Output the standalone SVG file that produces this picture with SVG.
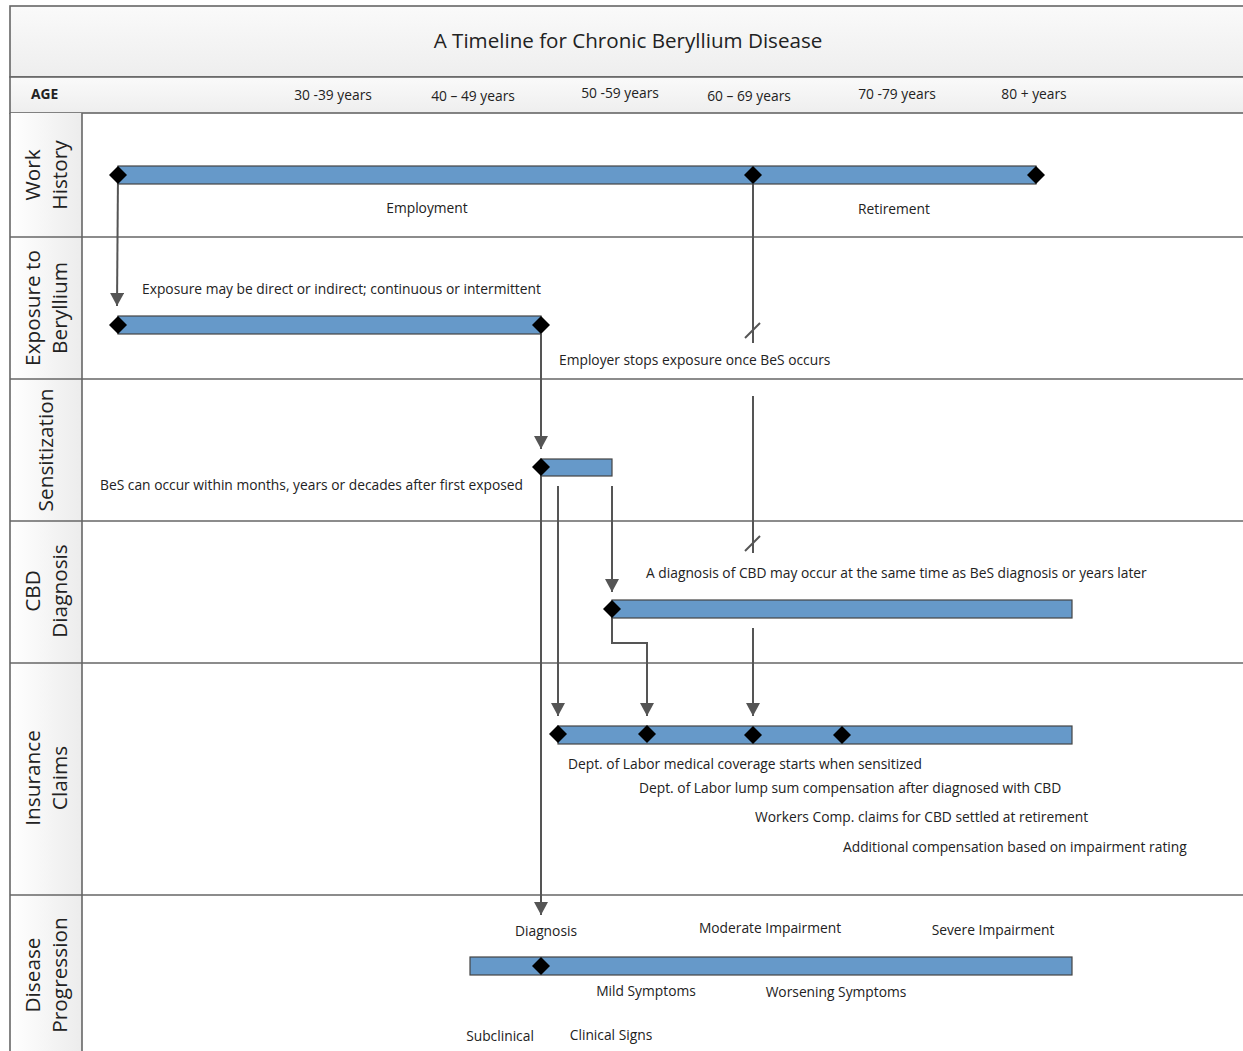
<svg xmlns="http://www.w3.org/2000/svg" width="1243" height="1051" viewBox="0 0 1243 1051">
<style>
text{font-family:"Open Sans","Noto Sans","Liberation Sans",sans-serif;fill:#222}
.t{font-size:13.8px}
.lane{font-size:20.8px}
.bar{fill:#6699c9;stroke:#444;stroke-width:1.2}
.dia{fill:#000}
.sep{stroke:#666;stroke-width:1.6;fill:none}
.con{stroke:#555;stroke-width:2;fill:none}
</style>
<defs>
<linearGradient id="hg" x1="0" y1="0" x2="0" y2="1"><stop offset="0" stop-color="#fafafa"/><stop offset="1" stop-color="#eeeeee"/></linearGradient>
<linearGradient id="lg" x1="0" y1="0" x2="1" y2="0"><stop offset="0" stop-color="#ffffff"/><stop offset="1" stop-color="#ececec"/></linearGradient>
<marker id="ah" markerUnits="userSpaceOnUse" markerWidth="16" markerHeight="14" refX="13" refY="7" orient="auto"><path d="M0,0 L13,7 L0,14 Z" fill="#555"/></marker>
</defs>
<rect width="1243" height="1051" fill="#fff"/>
<g id="header">
<rect x="10" y="6" width="1240" height="71" fill="url(#hg)" stroke="#666" stroke-width="1.6"/>
<text x="628" y="48" text-anchor="middle" style="font-size:20.6px">A Timeline for Chronic Beryllium Disease</text>
<rect x="10" y="77" width="1240" height="36" fill="url(#hg)" stroke="#666" stroke-width="1.6"/>
<text x="31" y="99" class="t" style="font-weight:bold">AGE</text>
<text x="333" y="100" class="t" text-anchor="middle">30 -39  years</text>
<text x="473" y="101" class="t" text-anchor="middle">40 – 49 years</text>
<text x="620" y="98" class="t" text-anchor="middle">50 -59 years</text>
<text x="749" y="101" class="t" text-anchor="middle">60 – 69 years</text>
<text x="897" y="99" class="t" text-anchor="middle">70 -79 years</text>
<text x="1034" y="99" class="t" text-anchor="middle">80 + years</text>
</g>
<g id="lanes">
<rect x="10" y="113" width="72" height="940" fill="url(#lg)"/>
<line class="sep" x1="10" y1="113" x2="10" y2="1051"/>
<line class="sep" x1="82" y1="113" x2="82" y2="1051"/>
<line class="sep" x1="10" y1="237" x2="1243" y2="237"/>
<line class="sep" x1="10" y1="379" x2="1243" y2="379"/>
<line class="sep" x1="10" y1="521" x2="1243" y2="521"/>
<line class="sep" x1="10" y1="663" x2="1243" y2="663"/>
<line class="sep" x1="10" y1="895" x2="1243" y2="895"/>
</g>
<g id="lane-work"><text class="lane" text-anchor="middle" transform="translate(40,175) rotate(-90)">Work</text><text class="lane" text-anchor="middle" transform="translate(67,175) rotate(-90)">History</text></g>
<g id="lane-exposure"><text class="lane" text-anchor="middle" transform="translate(40,308) rotate(-90)">Exposure to</text><text class="lane" text-anchor="middle" transform="translate(67,308) rotate(-90)">Beryllium</text></g>
<g id="lane-sens"><text class="lane" text-anchor="middle" transform="translate(53,450) rotate(-90)">Sensitization</text></g>
<g id="lane-cbd"><text class="lane" text-anchor="middle" transform="translate(40,591) rotate(-90)">CBD</text><text class="lane" text-anchor="middle" transform="translate(67,591) rotate(-90)">Diagnosis</text></g>
<g id="lane-ins"><text class="lane" text-anchor="middle" transform="translate(40,778) rotate(-90)">Insurance</text><text class="lane" text-anchor="middle" transform="translate(67,778) rotate(-90)">Claims</text></g>
<g id="lane-dis"><text class="lane" text-anchor="middle" transform="translate(40,975) rotate(-90)">Disease</text><text class="lane" text-anchor="middle" transform="translate(67,975) rotate(-90)">Progression</text></g>
<g id="connectors">
<line class="con" x1="118" y1="175" x2="117" y2="306" marker-end="url(#ah)"/>
<line class="con" x1="753" y1="175" x2="753" y2="343"/>
<line class="con" x1="745" y1="338" x2="760" y2="323"/>
<line class="con" x1="753" y1="396" x2="753" y2="553"/>
<line class="con" x1="745" y1="551" x2="760" y2="536"/>
<line class="con" x1="753" y1="628" x2="753" y2="716" marker-end="url(#ah)"/>
<line class="con" x1="541" y1="334" x2="541" y2="449" marker-end="url(#ah)"/>
<line class="con" x1="541" y1="467" x2="541" y2="915" marker-end="url(#ah)"/>
<line class="con" x1="558" y1="486" x2="558" y2="716" marker-end="url(#ah)"/>
<line class="con" x1="612" y1="486" x2="612" y2="592" marker-end="url(#ah)"/>
<polyline class="con" points="612,609 612,643 647,643 647,716" marker-end="url(#ah)"/>
</g>
<g id="bar-work">
<rect class="bar" x="118" y="166" width="918" height="18"/>
<path class="dia" d="M118,166 l9,9 l-9,9 l-9,-9 Z"/>
<path class="dia" d="M753,166 l9,9 l-9,9 l-9,-9 Z"/>
<path class="dia" d="M1036,166 l9,9 l-9,9 l-9,-9 Z"/>
<text x="427" y="213" class="t" text-anchor="middle">Employment</text>
<text x="894" y="214" class="t" text-anchor="middle">Retirement</text>
</g>
<g id="bar-exposure">
<rect class="bar" x="118" y="316" width="423" height="18"/>
<path class="dia" d="M118,316 l9,9 l-9,9 l-9,-9 Z"/>
<path class="dia" d="M541,316 l9,9 l-9,9 l-9,-9 Z"/>
<text x="142" y="294" class="t">Exposure may be direct or indirect; continuous or intermittent</text>
<text x="559" y="365" class="t">Employer stops exposure once BeS occurs</text>
</g>
<g id="bar-sens">
<rect class="bar" x="541" y="459" width="71" height="17"/>
<path class="dia" d="M541,458 l9,9 l-9,9 l-9,-9 Z"/>
<text x="100" y="490" class="t">BeS can occur within months, years or decades after first exposed</text>
</g>
<g id="bar-cbd">
<rect class="bar" x="612" y="600" width="460" height="18"/>
<path class="dia" d="M612,600 l9,9 l-9,9 l-9,-9 Z"/>
<text x="646" y="578" class="t">A diagnosis of CBD may occur at the same time as BeS diagnosis or years later</text>
</g>
<g id="bar-ins">
<rect class="bar" x="558" y="726" width="514" height="18"/>
<path class="dia" d="M558,725 l9,9 l-9,9 l-9,-9 Z"/>
<path class="dia" d="M647,725 l9,9 l-9,9 l-9,-9 Z"/>
<path class="dia" d="M753,726 l9,9 l-9,9 l-9,-9 Z"/>
<path class="dia" d="M842,726 l9,9 l-9,9 l-9,-9 Z"/>
<text x="568" y="769" class="t">Dept. of Labor medical coverage starts when sensitized</text>
<text x="639" y="793" class="t">Dept. of Labor lump sum compensation after diagnosed with CBD</text>
<text x="755" y="822" class="t">Workers Comp. claims for CBD settled at retirement</text>
<text x="843" y="852" class="t">Additional compensation based on impairment rating</text>
</g>
<g id="bar-disease">
<rect class="bar" x="470" y="957" width="602" height="18"/>
<path class="dia" d="M541,957 l9,9 l-9,9 l-9,-9 Z"/>
<text x="546" y="936" class="t" text-anchor="middle">Diagnosis</text>
<text x="770" y="933" class="t" text-anchor="middle">Moderate Impairment</text>
<text x="993" y="935" class="t" text-anchor="middle">Severe Impairment</text>
<text x="646" y="996" class="t" text-anchor="middle">Mild Symptoms</text>
<text x="836" y="997" class="t" text-anchor="middle">Worsening Symptoms</text>
<text x="500" y="1041" class="t" text-anchor="middle">Subclinical</text>
<text x="611" y="1040" class="t" text-anchor="middle">Clinical Signs</text>
</g>
</svg>
